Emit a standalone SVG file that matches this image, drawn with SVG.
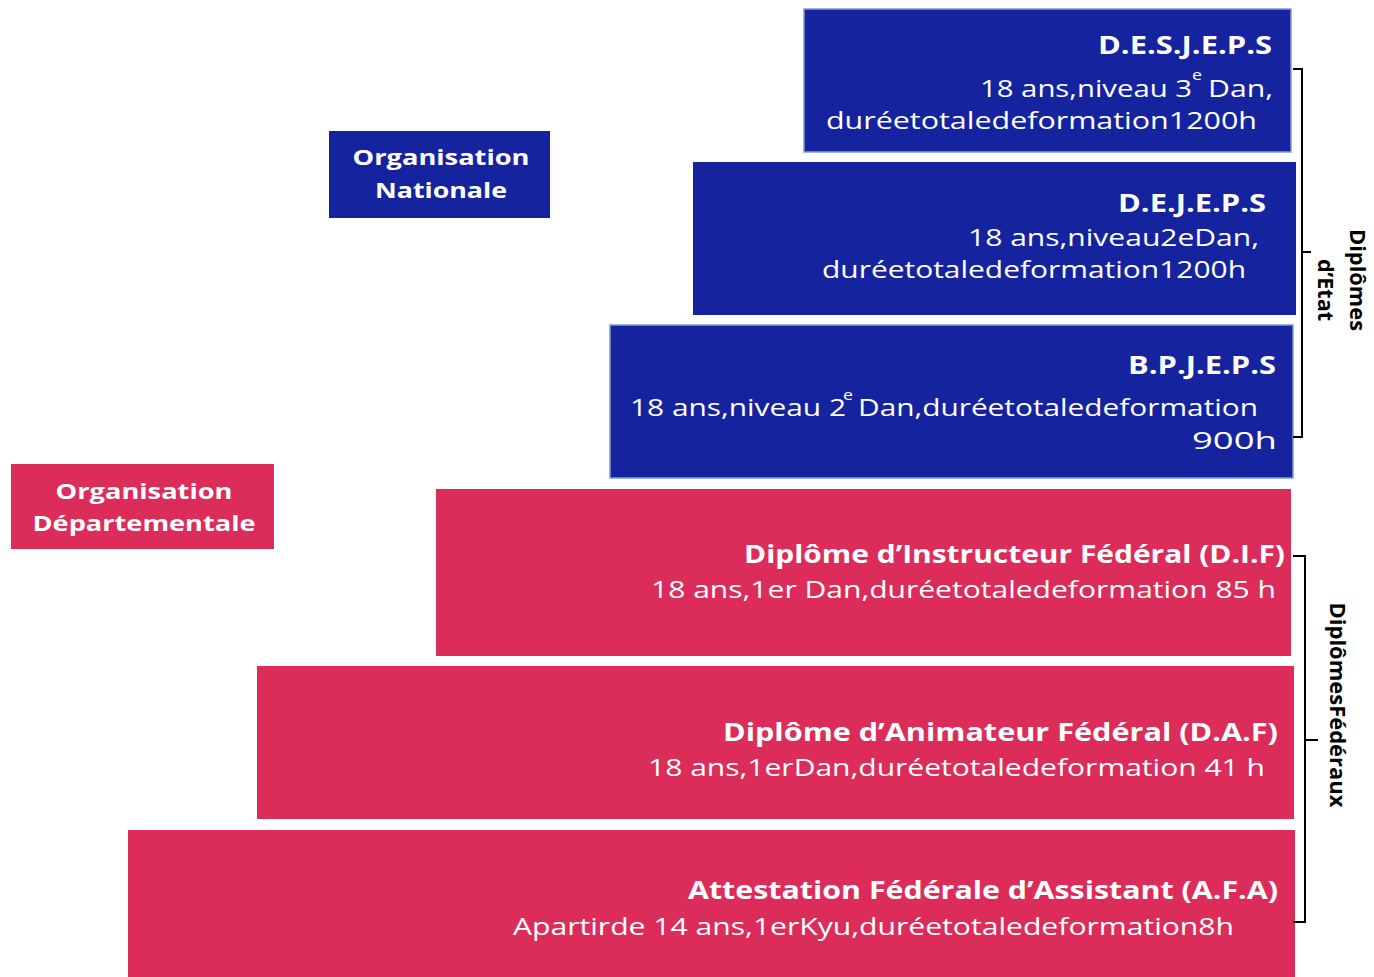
<svg xmlns="http://www.w3.org/2000/svg" width="1374" height="977" viewBox="0 0 1374 977">
<style>
.blue{fill:#16239F}
.pink{fill:#DC2D5A}
.bord{stroke:#7E9CD6;stroke-width:1.5}
text{font-family:"Open Sans","Liberation Sans",sans-serif;fill:#fff}
.t{font-weight:700;font-size:25px}
.b{font-size:24px}
.s{font-size:14px}
.o{font-weight:700;font-size:22px}
.v{font-weight:700;font-size:21px;fill:#000}
.br{fill:none;stroke:#000;stroke-width:2}
</style>
<rect width="1374" height="977" fill="#fff"/>
<g id="org-nationale">
<rect class="blue" x="329" y="131" width="221" height="87"/>
<text class="o" x="441" y="165" text-anchor="middle" textLength="177" lengthAdjust="spacingAndGlyphs">Organisation</text>
<text class="o" x="441" y="198" text-anchor="middle" textLength="132" lengthAdjust="spacingAndGlyphs">Nationale</text>
</g>
<g id="org-departementale">
<rect class="pink" x="11" y="464" width="263" height="85"/>
<text class="o" x="144" y="499" text-anchor="middle" textLength="177" lengthAdjust="spacingAndGlyphs">Organisation</text>
<text class="o" x="144" y="531" text-anchor="middle" textLength="223" lengthAdjust="spacingAndGlyphs">Départementale</text>
</g>
<g id="desjeps">
<rect class="blue bord" x="804" y="9" width="487" height="143"/>
<text class="t" x="1098" y="54" textLength="174" lengthAdjust="spacingAndGlyphs">D.E.S.J.E.P.S</text>
<text class="b" x="980" y="97" textLength="212" lengthAdjust="spacingAndGlyphs">18 ans,niveau 3</text>
<text class="s" x="1192" y="80" textLength="10" lengthAdjust="spacingAndGlyphs">e</text>
<text class="b" x="1208" y="97" textLength="65" lengthAdjust="spacingAndGlyphs">Dan,</text>
<text class="b" x="826" y="129" textLength="431" lengthAdjust="spacingAndGlyphs">duréetotaledeformation1200h</text>
</g>
<g id="dejeps">
<rect class="blue" x="693" y="162" width="603" height="153"/>
<text class="t" x="1118" y="212" textLength="148" lengthAdjust="spacingAndGlyphs">D.E.J.E.P.S</text>
<text class="b" x="968" y="246" textLength="291" lengthAdjust="spacingAndGlyphs">18 ans,niveau2eDan,</text>
<text class="b" x="822" y="278" textLength="424" lengthAdjust="spacingAndGlyphs">duréetotaledeformation1200h</text>
</g>
<g id="bpjeps">
<rect class="blue bord" x="610" y="325" width="683" height="153"/>
<text class="t" x="1128" y="374" textLength="148" lengthAdjust="spacingAndGlyphs">B.P.J.E.P.S</text>
<text class="b" x="630" y="416" textLength="216" lengthAdjust="spacingAndGlyphs">18 ans,niveau 2</text>
<text class="s" x="843" y="400" textLength="10" lengthAdjust="spacingAndGlyphs">e</text>
<text class="b" x="858" y="416" textLength="400" lengthAdjust="spacingAndGlyphs">Dan,duréetotaledeformation</text>
<text class="b" x="1192" y="449" textLength="85" lengthAdjust="spacingAndGlyphs">900h</text>
</g>
<g id="dif">
<rect class="pink" x="436" y="489" width="855" height="167"/>
<text class="t" x="744" y="563" textLength="541" lengthAdjust="spacingAndGlyphs">Diplôme d’Instructeur Fédéral (D.I.F)</text>
<text class="b" x="651" y="598" textLength="625" lengthAdjust="spacingAndGlyphs">18 ans,1er Dan,duréetotaledeformation  85 h</text>
</g>
<g id="daf">
<rect class="pink" x="257" y="666" width="1037" height="153"/>
<text class="t" x="723" y="741" textLength="555" lengthAdjust="spacingAndGlyphs">Diplôme d’Animateur Fédéral (D.A.F)</text>
<text class="b" x="648" y="776" textLength="617" lengthAdjust="spacingAndGlyphs">18 ans,1erDan,duréetotaledeformation  41 h</text>
</g>
<g id="afa">
<rect class="pink" x="128" y="830" width="1167" height="147"/>
<text class="t" x="688" y="899" textLength="590" lengthAdjust="spacingAndGlyphs">Attestation Fédérale d’Assistant (A.F.A)</text>
<text class="b" x="513" y="935" textLength="721" lengthAdjust="spacingAndGlyphs">Apartirde 14 ans,1erKyu,duréetotaledeformation8h</text>
</g>
<g id="connectors">
<path class="br" d="M1293 69 H1302 V437 H1293 M1302 252 H1311"/>
<path class="br" d="M1293 556 H1305 V922 H1293 M1305 740 H1318"/>
</g>
<g id="label-etat">
<text class="v" transform="translate(1350 280) rotate(90)" text-anchor="middle" textLength="102" lengthAdjust="spacingAndGlyphs">Diplômes</text>
<text class="v" transform="translate(1318 290) rotate(90)" text-anchor="middle" textLength="62" lengthAdjust="spacingAndGlyphs">d’Etat</text>
</g>
<g id="label-federaux">
<text class="v" transform="translate(1330 705) rotate(90)" text-anchor="middle" textLength="205" lengthAdjust="spacingAndGlyphs">DiplômesFédéraux</text>
</g>
</svg>
